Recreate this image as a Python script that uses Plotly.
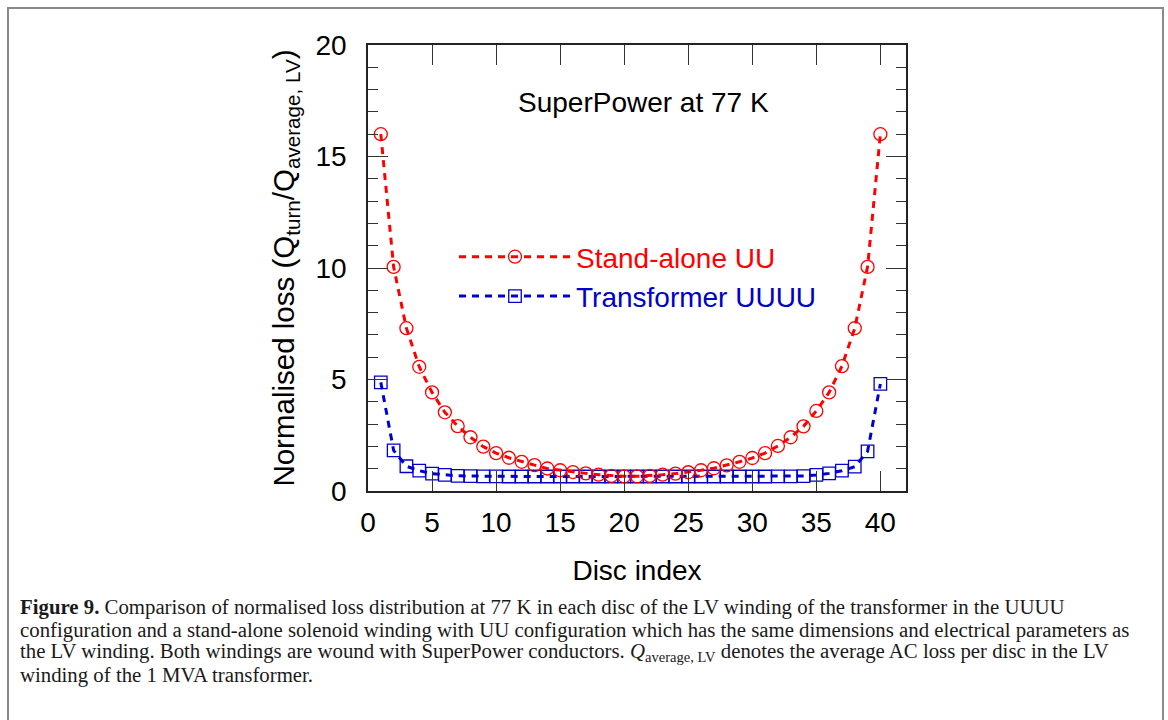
import plotly.graph_objects as go

disc = list(range(1, 41))
standalone_uu = [16.0, 10.05, 7.3, 5.57, 4.42, 3.53, 2.91, 2.41, 1.99, 1.70,
                 1.49, 1.31, 1.16, 1.01, 0.93, 0.85, 0.79, 0.73, 0.68, 0.66,
                 0.66, 0.68, 0.73, 0.78, 0.84, 0.93, 1.02, 1.15, 1.31, 1.48,
                 1.70, 2.02, 2.41, 2.90, 3.59, 4.42, 5.60, 7.3, 10.05, 16.0]
transformer_uuuu = [4.87, 1.82, 1.11, 0.91, 0.78, 0.72, 0.68, 0.67, 0.66, 0.66,
                    0.65, 0.65, 0.65, 0.65, 0.65, 0.65, 0.65, 0.65, 0.65, 0.65,
                    0.65, 0.65, 0.65, 0.65, 0.65, 0.65, 0.65, 0.65, 0.65, 0.65,
                    0.65, 0.66, 0.66, 0.67, 0.72, 0.79, 0.91, 1.09, 1.78, 4.8]
x_ticks = [0, 5, 10, 15, 20, 25, 30, 35, 40]
y_ticks = [0, 5, 10, 15, 20]

caption_lines = [
    "<b>Figure 9.</b> Comparison of normalised loss distribution at 77 K in each disc of the LV winding of the transformer in the UUUU",
    "configuration and a stand-alone solenoid winding with UU configuration which has the same dimensions and electrical parameters as",
    "the LV winding. Both windings are wound with SuperPower conductors. <i>Q</i><sub>average, LV</sub> denotes the average AC loss per disc in the LV",
    "winding of the 1 MVA transformer.",
]

RED = "#ff0000"
BLUE = "#0000cc"
SANS = "Liberation Sans, Arial, sans-serif"
SERIF = "Liberation Serif, Times New Roman, serif"

fig = go.Figure()
fig.add_trace(go.Scatter(
    x=disc, y=transformer_uuuu, mode="lines+markers",
    name='<span style="color:#0000cc">Transformer UUUU</span>',
    line=dict(color=BLUE, width=3, dash="7px,6px"),
    marker=dict(symbol="square-open", size=12.5, color=BLUE, line=dict(width=1.3, color=BLUE)),
))
fig.add_trace(go.Scatter(
    x=disc, y=standalone_uu, mode="lines+markers",
    name='<span style="color:#ff0000">Stand-alone UU</span>',
    line=dict(color=RED, width=3, dash="7px,6px"),
    marker=dict(symbol="circle-open", size=13, color=RED, line=dict(width=1.3, color=RED)),
))

L, R, T, B = 368, 262, 45, 229
W, H = 1168, 720
pw, ph = W - L - R, H - T - B

def px(xp):
    return (xp - L) / pw

def py(yp):
    return (H - B - yp) / ph

fig.update_layout(
    width=W, height=H,
    margin=dict(l=L, r=R, t=T, b=B),
    paper_bgcolor="white", plot_bgcolor="white",
    font=dict(family=SANS, size=28, color="black"),
    showlegend=True,
    legend=dict(
        x=px(454), y=py(232), xanchor="left", yanchor="top",
        traceorder="reversed", itemwidth=112,
        font=dict(family=SANS, size=28), bgcolor="rgba(0,0,0,0)",
    ),
    xaxis=dict(
        range=[0, 42], tickvals=x_ticks, ticks="inside", ticklen=20, tickwidth=1.3,
        tickcolor="#333", showline=True, linecolor="#222", linewidth=1.5,
        mirror="allticks", showgrid=False, zeroline=False,
        tickfont=dict(family=SANS, size=28), ticklabelstandoff=6,
        title=dict(text="Disc index", font=dict(family=SANS, size=28), standoff=23),
    ),
    yaxis=dict(
        range=[0, 20], tickvals=y_ticks, ticks="inside", ticklen=20, tickwidth=1.3,
        tickcolor="#333", showline=True, linecolor="#222", linewidth=1.5,
        mirror="allticks", showgrid=False, zeroline=False,
        minor=dict(dtick=1, ticks="inside", ticklen=10, tickwidth=1.3, tickcolor="#333", showgrid=False),
        tickfont=dict(family=SANS, size=28), ticklabelstandoff=14,
        title=dict(text="Normalised loss (Q<sub>turn</sub>/Q<sub>average, LV</sub>)",
                   font=dict(family=SANS, size=29.5), standoff=12),
    ),
)

fig.add_annotation(
    x=21.5, y=17.4, xref="x", yref="y", text="SuperPower at 77 K", showarrow=False,
    font=dict(family=SANS, size=28, color="black"),
)

for i, line in enumerate(caption_lines):
    fig.add_annotation(
        x=px(18), y=py(607 + i * 22.7), xref="paper", yref="paper",
        xanchor="left", yanchor="middle", text=line, showarrow=False,
        font=dict(family=SERIF, size=20.8, color="#1a1a1a"),
    )

fig.add_shape(
    type="rect", xref="paper", yref="paper",
    x0=px(8), x1=px(1163), y0=py(730), y1=py(8),
    line=dict(color="#8a8a8a", width=2), fillcolor="rgba(0,0,0,0)", layer="below",
)

fig.write_html(
    "out.html",
    config={"displayModeBar": False},
    post_script="document.body.style.margin='0';document.body.style.padding='0';",
)
